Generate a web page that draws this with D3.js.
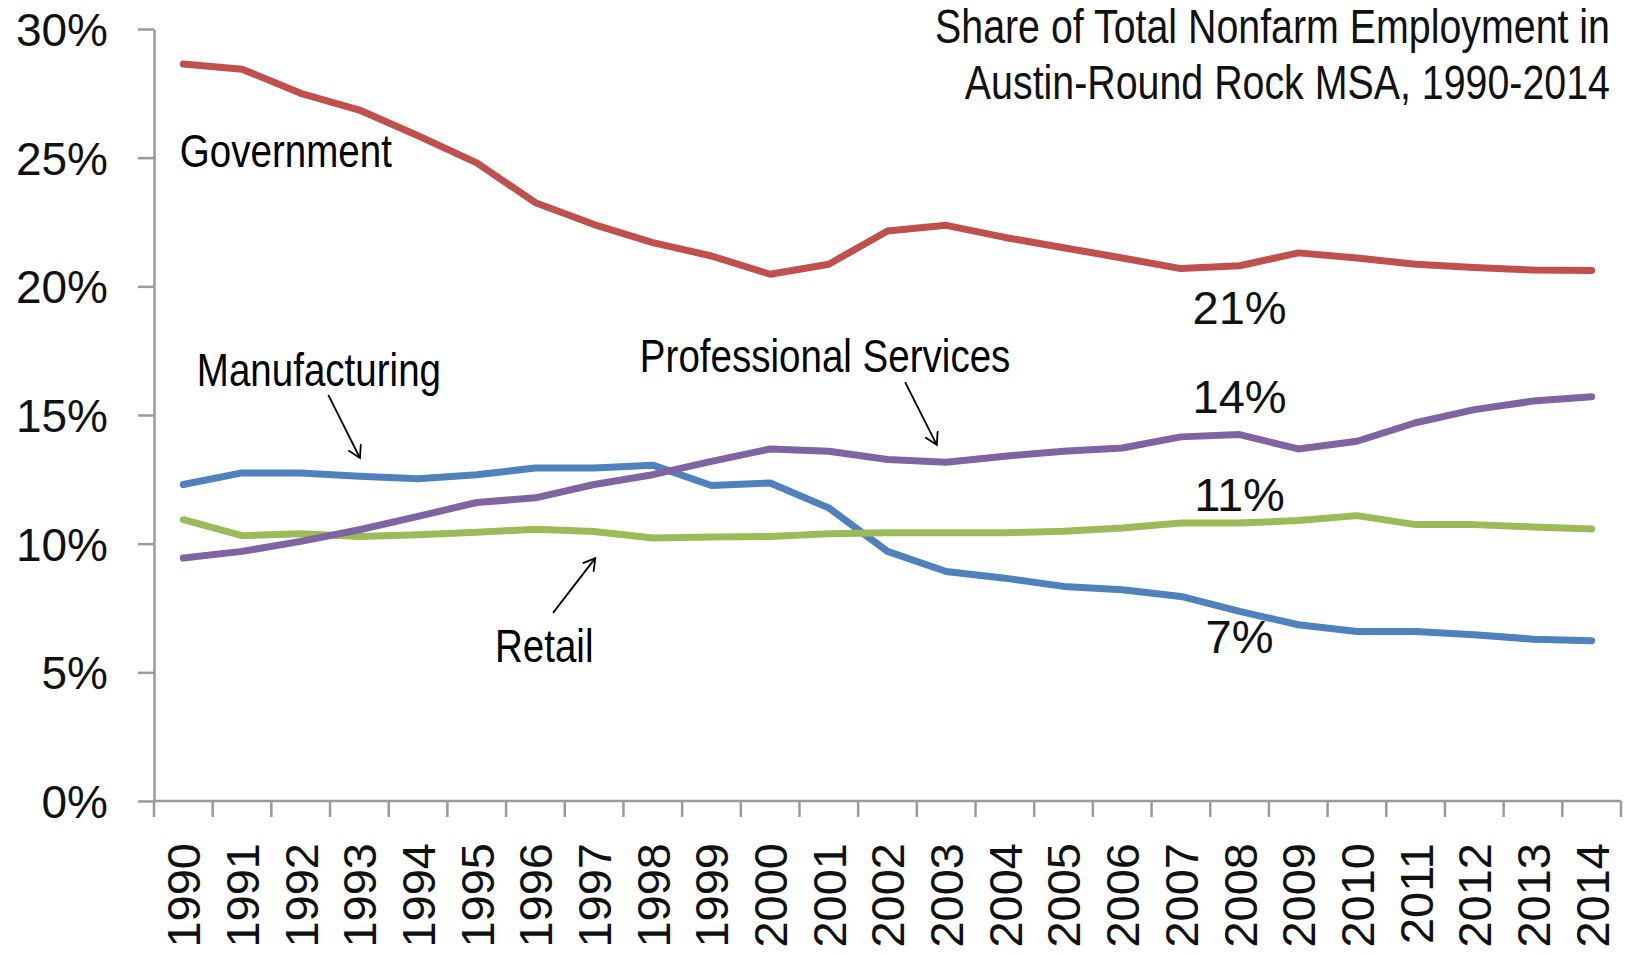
<!DOCTYPE html>
<html>
<head>
<meta charset="utf-8">
<script src="https://cdn.jsdelivr.net/npm/d3@7/dist/d3.min.js"></script>
<style>
  html, body { margin: 0; padding: 0; background: #fff; }
  svg { display: block; }
</style>
</head>
<body>
<svg id="chart" width="1628" height="955"></svg>
<script>
// ---- data ----
const years = d3.range(1990, 2015);
const government    = [28.64, 28.44, 27.5, 26.85, 25.85, 24.8, 23.25, 22.4, 21.7, 21.18, 20.47, 20.86, 22.15, 22.37, 21.9, 21.5, 21.1, 20.69, 20.8, 21.3, 21.1, 20.86, 20.73, 20.63, 20.62];
const manufacturing = [12.3, 12.75, 12.75, 12.62, 12.52, 12.68, 12.94, 12.94, 13.05, 12.26, 12.36, 11.39, 9.7, 8.92, 8.66, 8.34, 8.21, 7.95, 7.37, 6.85, 6.59, 6.59, 6.46, 6.29, 6.23];
const retail        = [10.93, 10.31, 10.39, 10.28, 10.35, 10.44, 10.56, 10.47, 10.22, 10.26, 10.28, 10.39, 10.42, 10.42, 10.42, 10.48, 10.61, 10.8, 10.8, 10.9, 11.09, 10.74, 10.74, 10.65, 10.57];
const professional  = [9.44, 9.7, 10.09, 10.54, 11.06, 11.6, 11.78, 12.3, 12.68, 13.2, 13.68, 13.59, 13.27, 13.16, 13.4, 13.59, 13.72, 14.15, 14.24, 13.68, 13.98, 14.7, 15.21, 15.54, 15.71];
const yTicks = [0, 5, 10, 15, 20, 25, 30];
const titleLines = ["Share of Total Nonfarm Employment in", "Austin-Round Rock MSA, 1990-2014"];
const seriesNames = ["Government", "Manufacturing", "Retail", "Professional Services"];
const seriesColors = ["#C0504D", "#4F81BD", "#9BBB59", "#8064A2"];
// annotations in data coordinates (year, percent)
const nameLabels = [
  {text: "Government", year: 1989.94, value: 24.64},
  {text: "Manufacturing", year: 1990.23, value: 16.13},
  {text: "Professional Services", year: 1997.78, value: 16.67},
  {text: "Retail", year: 1995.31, value: 5.40}
];
const arrows = [
  {from: [1992.47, 15.78], to: [1993.01, 13.33]},
  {from: [2002.30, 16.28], to: [2002.84, 13.84]},
  {from: [1996.30, 7.31], to: [1997.02, 9.44]}
];
const endLabels = [
  {text: "21%", year: 2008, value: 18.54},
  {text: "14%", year: 2008, value: 15.09},
  {text: "11%", year: 2008, value: 11.28},
  {text: "7%", year: 2008, value: 5.75}
];

// ---- layout ----
const svg = d3.select("#chart");
const plotLeft = 154, plotRight = 1621, plotTop = 29, plotBottom = 801;
const axisColor = "#9a9a9a";
const labelFont = "'Liberation Sans', Arial, sans-serif";
const narrowScale = 0.82; // Arial Narrow is ~82% the width of Arial

const x = d3.scaleBand().domain(years).range([plotLeft, plotRight]).padding(0);
const xc = d3.scaleLinear().domain([1989.5, 2014.5]).range([plotLeft, plotRight]);
const y = d3.scaleLinear().domain([0, 30]).range([plotBottom, plotTop]);

// y axis
const yAxis = svg.append("g").attr("transform", `translate(${plotLeft},0)`)
  .call(d3.axisLeft(y).tickValues(yTicks).tickSize(16).tickSizeOuter(0).tickPadding(30).tickFormat(d => d + "%"));
yAxis.select(".domain").attr("stroke", axisColor).attr("stroke-width", 2.5);
yAxis.selectAll(".tick line").attr("stroke", axisColor).attr("stroke-width", 2.5);
yAxis.selectAll(".tick text").attr("font-family", labelFont).attr("font-size", 46).attr("fill", "#111").attr("dy", "0.36em");

// x axis (ticks between categories)
const xAxis = svg.append("g");
xAxis.append("line").attr("x1", plotLeft).attr("x2", plotRight).attr("y1", y(0)).attr("y2", y(0))
  .attr("stroke", axisColor).attr("stroke-width", 2.5);
const boundaries = years.map(d => x(d)).concat([x.range()[1]]);
xAxis.selectAll("line.tick").data(boundaries).join("line").attr("class", "tick")
  .attr("x1", d => d).attr("x2", d => d).attr("y1", y(0)).attr("y2", y(0) + 16)
  .attr("stroke", axisColor).attr("stroke-width", 2.5);
xAxis.selectAll("text").data(years).join("text")
  .attr("transform", d => `translate(${x(d) + x.bandwidth() / 2},${y(0) + 42}) rotate(-90)`)
  .attr("text-anchor", "end").attr("dy", "0.36em")
  .attr("font-family", labelFont).attr("font-size", 47).attr("fill", "#111")
  .text(d => d);

// lines
const allSeries = [government, manufacturing, retail, professional];
const line = d3.line().x((d, i) => x(years[i]) + x.bandwidth() / 2).y(d => y(d)).curve(d3.curveLinear);
svg.append("g").selectAll("path").data(allSeries).join("path")
  .attr("d", d => line(d)).attr("fill", "none")
  .attr("stroke", (d, i) => seriesColors[i]).attr("stroke-width", 7)
  .attr("stroke-linejoin", "round").attr("stroke-linecap", "round");

// title (condensed)
svg.append("g").selectAll("text").data(titleLines).join("text")
  .attr("transform", (d, i) => `translate(1610,${43 + i * 56}) scale(${narrowScale},1)`)
  .attr("text-anchor", "end").attr("font-family", labelFont).attr("font-size", 48).attr("fill", "#111").text(d => d);

// name labels (condensed)
svg.append("g").selectAll("text").data(nameLabels).join("text")
  .attr("transform", d => `translate(${xc(d.year)},${y(d.value)}) scale(${narrowScale},1)`)
  .attr("font-family", labelFont).attr("font-size", 47).attr("fill", "#000").text(d => d.text);

// arrows
svg.append("defs").append("marker").attr("id", "arrowhead")
  .attr("viewBox", "-12 -8 14 16").attr("markerWidth", 14).attr("markerHeight", 16)
  .attr("markerUnits", "userSpaceOnUse").attr("refX", 0).attr("refY", 0).attr("orient", "auto")
  .append("path").attr("d", "M-12,-7 L0,0 L-12,7").attr("fill", "none").attr("stroke", "#000").attr("stroke-width", 1.8);
svg.append("g").selectAll("line").data(arrows).join("line")
  .attr("x1", d => xc(d.from[0])).attr("y1", d => y(d.from[1]))
  .attr("x2", d => xc(d.to[0])).attr("y2", d => y(d.to[1]))
  .attr("stroke", "#000").attr("stroke-width", 1.8).attr("marker-end", "url(#arrowhead)");

// end value labels
svg.append("g").selectAll("text").data(endLabels).join("text")
  .attr("x", d => xc(d.year)).attr("y", d => y(d.value))
  .attr("text-anchor", "middle").attr("font-family", labelFont).attr("font-size", 47).attr("fill", "#111")
  .text(d => d.text);
</script>
</body>
</html>
